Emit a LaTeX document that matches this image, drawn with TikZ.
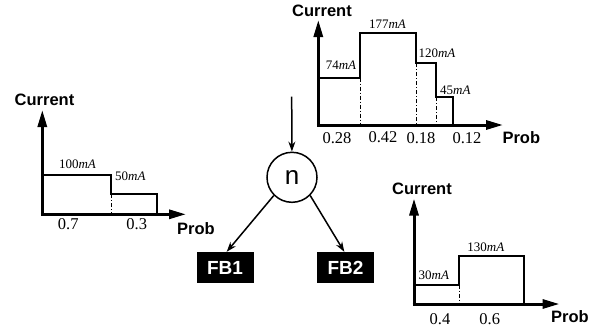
\documentclass[tikz,border=0pt]{standalone}
\usepackage{fontspec}
\setmainfont{Liberation Serif}
\setsansfont{Liberation Sans}
\usetikzlibrary{arrows.meta}
\tikzset{
  axis/.style={line width=3pt,-{Triangle[length=17pt,width=9pt]}},
  stepline/.style={line width=2pt},
  dashdot/.style={line width=0.9pt,dash pattern=on 4pt off 2pt on 1pt off 2pt},
  ylab/.style={font=\sffamily\bfseries\fontsize{16.5}{16.5}\selectfont,inner sep=0pt},
  num/.style={font=\fontsize{16.5}{16.5}\selectfont,inner sep=0pt},
  val/.style={font=\fontsize{13}{13}\selectfont,inner sep=0pt},
  fb/.style={fill=black,text=white,font=\sffamily\bfseries\fontsize{19}{19}\selectfont,minimum width=57pt,minimum height=31pt,inner sep=0pt},
  conn/.style={line width=1.5pt,-{Stealth[length=10pt,width=7pt]}}
}
\begin{document}
\begin{tikzpicture}[x=1pt,y=-1pt]
\useasboundingbox (0,0) rectangle (611,330);
% ---- top right chart
\draw[stepline] (318,125) -- (318,77.7) -- (360,77.7) -- (360,33.3) -- (416,33.3) -- (416,63.3) -- (436.3,63.3) -- (436.3,97.3) -- (453.3,97.3) -- (453.3,125);
\draw[dashdot] (360,77.7) -- (360,125);
\draw[dashdot] (416,63.3) -- (416,125);
\draw[dashdot] (436.3,97.3) -- (436.3,125);
\draw[axis] (318.3,126.5) -- (318.3,20);
\draw[axis] (316.8,125) -- (503,125);
\node[ylab] (c1) at (322,10.7) {Current};
\node[ylab] (p1) at (521.3,137.3) {Prob};
\node[val] at (341,65.7) {74\textit{mA}};
\node[val] at (387.5,24) {177\textit{mA}};
\node[val] at (437,53.3) {120\textit{mA}};
\node[val] at (455.3,90) {45\textit{mA}};
\node[num] at (337,138.3) {0.28};
\node[num] at (383,137) {0.42};
\node[num] at (421,138) {0.18};
\node[num] at (467,138.5) {0.12};
% ---- left chart
\draw[stepline] (42.3,214.3) -- (42.3,175) -- (111,175) -- (111,194.3) -- (156.7,194.3) -- (156.7,214.3);
\draw[dashdot] (111,194.3) -- (111,214.3);
\draw[axis] (42.3,215.8) -- (42.3,110);
\draw[axis] (40.8,214.3) -- (186,214.3);
\node[ylab] (c2) at (44.5,100) {Current};
\node[ylab] (p2) at (196,228.3) {Prob};
\node[val] at (77.5,164) {100\textit{mA}};
\node[val] at (130.3,176) {50\textit{mA}};
\node[num] at (68.3,224) {0.7};
\node[num] at (136.7,224) {0.3};
% ---- bottom right chart
\draw[stepline] (414,304) -- (414,284.7) -- (459,284.7) -- (459,256) -- (523.7,256) -- (523.7,304);
\draw[dashdot] (459,284.7) -- (459,304);
\draw[axis] (414,305.5) -- (414,198.5);
\draw[axis] (412.5,304) -- (559.5,304);
\node[ylab] (c3) at (422,189.3) {Current};
\node[ylab] (p3) at (570,316.7) {Prob};
\node[val] at (433.8,275.7) {30\textit{mA}};
\node[val] at (485.8,247.7) {130\textit{mA}};
\node[num] at (440,319.3) {0.4};
\node[num] at (489.7,319) {0.6};
% ---- tree
\coordinate (in) at (291.7,96.7);
\node[circle,draw,line width=1.5pt,minimum size=50pt,inner sep=0pt,font=\sffamily\fontsize{26}{26}\selectfont] (n) at (292,177.3) {n};
\node[fb] (fb1) at (225,267.5) {FB1};
\node[fb] (fb2) at (345.5,267.5) {FB2};
\draw[conn] (in) -- (n);
\draw[conn] (n.225) -- (fb1.north -| 226.7,0);
\draw[conn] (n.315) -- (fb2.north -| 344.3,0);
\end{tikzpicture}
\end{document}
